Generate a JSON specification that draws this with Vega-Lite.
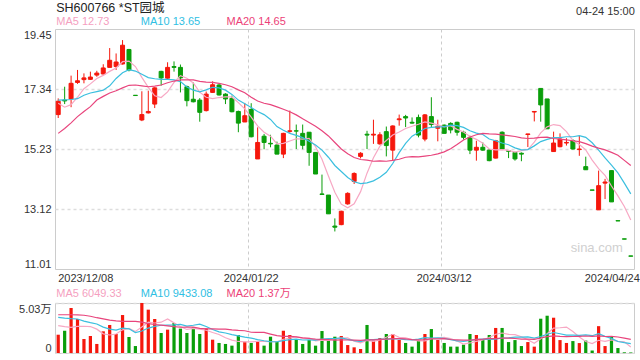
{
"$schema": "https://vega.github.io/schema/vega-lite/v6.json",
"padding": {"left": 18, "top": 1, "right": 2, "bottom": 0},
"background": "white",
"config": {
  "font": "Liberation Sans, Noto Sans CJK SC, sans-serif",
  "view": {"stroke": "#cccccc"},
  "axis": {"labelFont": "Liberation Sans, Noto Sans CJK SC, sans-serif", "labelFontSize": 11, "labelColor": "#333333", "domain": false, "ticks": false},
  "text": {"font": "Liberation Sans, Noto Sans CJK SC, sans-serif"}
},
"datasets": {
"k": [
{"d":"2023/12/08","o":16.44,"h":17.01,"l":16.32,"c":16.91,"v":18400,"m5":16.84,"m10":16.95,"m20":15.78,"vm5":27500,"vm10":35900,"vm20":38500},
{"d":"2023/12/11","o":16.95,"h":17.42,"l":16.81,"c":16.92,"v":22400,"m5":16.70,"m10":16.96,"m20":15.95,"vm5":26500,"vm10":35000,"vm20":38500},
{"d":"2023/12/12","o":16.99,"h":17.81,"l":16.70,"c":17.54,"v":45300,"m5":16.79,"m10":16.97,"m20":16.15,"vm5":25800,"vm10":34500,"vm20":38500},
{"d":"2023/12/13","o":17.57,"h":18.01,"l":17.52,"c":17.63,"v":34200,"m5":17.05,"m10":17.00,"m20":16.37,"vm5":26800,"vm10":34200,"vm20":38300},
{"d":"2023/12/14","o":17.67,"h":17.89,"l":17.54,"c":17.73,"v":14100,"m5":17.35,"m10":17.12,"m20":16.55,"vm5":26900,"vm10":32000,"vm20":38000},
{"d":"2023/12/15","o":17.68,"h":17.95,"l":17.66,"c":17.76,"v":17100,"m5":17.52,"m10":17.20,"m20":16.72,"vm5":26600,"vm10":30500,"vm20":37000},
{"d":"2023/12/18","o":17.83,"h":17.98,"l":17.77,"c":17.90,"v":9100,"m5":17.71,"m10":17.25,"m20":16.95,"vm5":24000,"vm10":29200,"vm20":35500},
{"d":"2023/12/19","o":17.87,"h":18.21,"l":17.84,"c":18.08,"v":21800,"m5":17.82,"m10":17.30,"m20":17.08,"vm5":19300,"vm10":26000,"vm20":34300},
{"d":"2023/12/20","o":18.10,"h":18.78,"l":18.10,"c":18.35,"v":28200,"m5":17.96,"m10":17.45,"m20":17.20,"vm5":18100,"vm10":24100,"vm20":33000},
{"d":"2023/12/21","o":18.13,"h":18.59,"l":18.01,"c":18.29,"v":19100,"m5":18.08,"m10":17.71,"m20":17.28,"vm5":19100,"vm10":23000,"vm20":32300},
{"d":"2023/12/22","o":18.22,"h":19.06,"l":18.20,"c":18.88,"v":38200,"m5":18.30,"m10":17.91,"m20":17.38,"vm5":23300,"vm10":25000,"vm20":31900},
{"d":"2023/12/25","o":18.73,"h":18.75,"l":17.96,"c":18.01,"v":16100,"m5":18.32,"m10":18.02,"m20":17.47,"vm5":24700,"vm10":24300,"vm20":31900},
{"d":"2023/12/26","o":17.12,"h":17.12,"l":17.11,"c":17.11,"v":7000,"m5":18.13,"m10":17.97,"m20":17.48,"vm5":21700,"vm10":20500,"vm20":31900},
{"d":"2023/12/27","o":16.25,"h":17.26,"l":16.21,"c":16.44,"v":50300,"m5":17.75,"m10":17.86,"m20":17.45,"vm5":26100,"vm10":22100,"vm20":31000},
{"d":"2023/12/28","o":16.50,"h":17.28,"l":16.48,"c":16.55,"v":43600,"m5":17.40,"m10":17.74,"m20":17.42,"vm5":31000,"vm10":25100,"vm20":29500},
{"d":"2023/12/29","o":16.81,"h":17.40,"l":16.67,"c":17.38,"v":34200,"m5":17.10,"m10":17.70,"m20":17.44,"vm5":30200,"vm10":26800,"vm20":28700},
{"d":"2024/01/02","o":17.96,"h":17.98,"l":17.46,"c":17.73,"v":20100,"m5":17.04,"m10":17.68,"m20":17.48,"vm5":31000,"vm10":27900,"vm20":28000},
{"d":"2024/01/03","o":17.72,"h":18.28,"l":17.67,"c":18.10,"v":23500,"m5":17.24,"m10":17.68,"m20":17.56,"vm5":34300,"vm10":28000,"vm20":27200},
{"d":"2024/01/04","o":18.13,"h":18.31,"l":17.95,"c":18.10,"v":30200,"m5":17.57,"m10":17.66,"m20":17.62,"vm5":30300,"vm10":28200,"vm20":26500},
{"d":"2024/01/05","o":18.10,"h":18.20,"l":17.22,"c":17.73,"v":24500,"m5":17.81,"m10":17.60,"m20":17.66,"vm5":26500,"vm10":28800,"vm20":25900},
{"d":"2024/01/08","o":17.42,"h":17.46,"l":16.73,"c":16.93,"v":20100,"m5":17.72,"m10":17.41,"m20":17.66,"vm5":23700,"vm10":27000,"vm20":26000},
{"d":"2024/01/09","o":16.98,"h":17.57,"l":16.87,"c":16.89,"v":25800,"m5":17.55,"m10":17.30,"m20":17.66,"vm5":24800,"vm10":27900,"vm20":26100},
{"d":"2024/01/10","o":16.95,"h":17.02,"l":16.19,"c":16.52,"v":19100,"m5":17.23,"m10":17.24,"m20":17.61,"vm5":23900,"vm10":29100,"vm20":24800},
{"d":"2024/01/11","o":16.58,"h":17.25,"l":16.55,"c":17.16,"v":24800,"m5":17.05,"m10":17.31,"m20":17.58,"vm5":22900,"vm10":26600,"vm20":24300},
{"d":"2024/01/12","o":17.22,"h":17.61,"l":17.20,"c":17.49,"v":13400,"m5":17.00,"m10":17.40,"m20":17.57,"vm5":20600,"vm10":23600,"vm20":24300},
{"d":"2024/01/15","o":17.48,"h":17.52,"l":17.11,"c":17.13,"v":10100,"m5":17.04,"m10":17.38,"m20":17.54,"vm5":18600,"vm10":21200,"vm20":24000},
{"d":"2024/01/16","o":17.16,"h":17.19,"l":16.81,"c":16.99,"v":9100,"m5":17.06,"m10":17.30,"m20":17.49,"vm5":15300,"vm10":20100,"vm20":24000},
{"d":"2024/01/17","o":17.01,"h":17.11,"l":16.52,"c":16.54,"v":7400,"m5":17.06,"m10":17.15,"m20":17.42,"vm5":13000,"vm10":18500,"vm20":23200},
{"d":"2024/01/18","o":16.55,"h":16.58,"l":15.82,"c":16.14,"v":18100,"m5":16.86,"m10":16.95,"m20":17.31,"vm5":11600,"vm10":17200,"vm20":22700},
{"d":"2024/01/19","o":16.18,"h":16.85,"l":16.18,"c":16.40,"v":11400,"m5":16.64,"m10":16.82,"m20":17.21,"vm5":11200,"vm10":15900,"vm20":22400},
{"d":"2024/01/22","o":16.62,"h":16.84,"l":15.64,"c":15.66,"v":10100,"m5":16.35,"m10":16.69,"m20":17.05,"vm5":11200,"vm10":14900,"vm20":20900},
{"d":"2024/01/23","o":14.88,"h":15.99,"l":14.88,"c":15.46,"v":11400,"m5":16.04,"m10":16.55,"m20":16.92,"vm5":11700,"vm10":13500,"vm20":20700},
{"d":"2024/01/24","o":15.68,"h":15.76,"l":15.22,"c":15.46,"v":7400,"m5":15.82,"m10":16.44,"m20":16.84,"vm5":11700,"vm10":12300,"vm20":20700},
{"d":"2024/01/25","o":15.43,"h":15.73,"l":15.29,"c":15.41,"v":16400,"m5":15.68,"m10":16.27,"m20":16.79,"vm5":11300,"vm10":11500,"vm20":19000},
{"d":"2024/01/26","o":15.37,"h":15.49,"l":15.05,"c":15.05,"v":11400,"m5":15.41,"m10":16.02,"m20":16.71,"vm5":11300,"vm10":11300,"vm20":17400},
{"d":"2024/01/29","o":15.05,"h":15.80,"l":14.91,"c":15.78,"v":22400,"m5":15.43,"m10":15.89,"m20":16.63,"vm5":13800,"vm10":12500,"vm20":16800},
{"d":"2024/01/30","o":15.85,"h":16.58,"l":15.80,"c":15.87,"v":18100,"m5":15.51,"m10":15.78,"m20":16.54,"vm5":15100,"vm10":13400,"vm20":16700},
{"d":"2024/01/31","o":15.87,"h":16.09,"l":15.23,"c":15.86,"v":13400,"m5":15.59,"m10":15.71,"m20":16.43,"vm5":16300,"vm10":14000,"vm20":16200},
{"d":"2024/02/01","o":15.78,"h":16.09,"l":15.22,"c":15.36,"v":9100,"m5":15.58,"m10":15.63,"m20":16.29,"vm5":14900,"vm10":13100,"vm20":15200},
{"d":"2024/02/02","o":15.82,"h":15.82,"l":14.64,"c":15.11,"v":13100,"m5":15.60,"m10":15.50,"m20":16.16,"vm5":15200,"vm10":13300,"vm20":14600},
{"d":"2024/02/05","o":15.11,"h":15.11,"l":14.35,"c":14.35,"v":7400,"m5":15.31,"m10":15.37,"m20":16.03,"vm5":12200,"vm10":13000,"vm20":14000},
{"d":"2024/02/06","o":13.65,"h":14.33,"l":13.63,"c":13.63,"v":22100,"m5":14.87,"m10":15.19,"m20":15.87,"vm5":13000,"vm10":14100,"vm20":13800},
{"d":"2024/02/07","o":13.61,"h":13.61,"l":12.95,"c":12.95,"v":12400,"m5":14.28,"m10":14.94,"m20":15.69,"vm5":12800,"vm10":14600,"vm20":13500},
{"d":"2024/02/08","o":12.52,"h":12.79,"l":12.33,"c":12.48,"v":16400,"m5":13.71,"m10":14.65,"m20":15.46,"vm5":14300,"vm10":14600,"vm20":13000},
{"d":"2024/02/19","o":12.57,"h":13.06,"l":12.55,"c":13.04,"v":17100,"m5":13.29,"m10":14.44,"m20":15.23,"vm5":15100,"vm10":15200,"vm20":13200},
{"d":"2024/02/20","o":13.30,"h":13.71,"l":13.27,"c":13.67,"v":8000,"m5":13.16,"m10":14.23,"m20":15.06,"vm5":15200,"vm10":13700,"vm20":13100},
{"d":"2024/02/21","o":14.09,"h":14.41,"l":14.00,"c":14.37,"v":5700,"m5":13.30,"m10":14.08,"m20":14.93,"vm5":11900,"vm10":12500,"vm20":12900},
{"d":"2024/02/22","o":14.97,"h":15.12,"l":14.90,"c":15.08,"v":4000,"m5":13.73,"m10":14.01,"m20":14.86,"vm5":10200,"vm10":11500,"vm20":12800},
{"d":"2024/02/23","o":15.75,"h":15.87,"l":15.23,"c":15.72,"v":28200,"m5":14.38,"m10":14.04,"m20":14.84,"vm5":12600,"vm10":13400,"vm20":13300},
{"d":"2024/02/26","o":15.72,"h":16.26,"l":15.41,"c":15.75,"v":12400,"m5":14.92,"m10":14.11,"m20":14.80,"vm5":11700,"vm10":13400,"vm20":13300},
{"d":"2024/02/27","o":15.41,"h":15.82,"l":15.38,"c":15.73,"v":15100,"m5":15.33,"m10":14.24,"m20":14.81,"vm5":13100,"vm10":14100,"vm20":13600},
{"d":"2024/02/28","o":15.84,"h":16.02,"l":14.97,"c":15.35,"v":19100,"m5":15.53,"m10":14.41,"m20":14.80,"vm5":15800,"vm10":13800,"vm20":14000},
{"d":"2024/02/29","o":15.19,"h":16.06,"l":14.84,"c":16.04,"v":19100,"m5":15.72,"m10":14.72,"m20":14.83,"vm5":18800,"vm10":14500,"vm20":14500},
{"d":"2024/03/01","o":16.26,"h":16.44,"l":16.05,"c":16.29,"v":13100,"m5":15.83,"m10":15.10,"m20":14.87,"vm5":15800,"vm10":14200,"vm20":14400},
{"d":"2024/03/04","o":16.37,"h":16.43,"l":16.00,"c":16.32,"v":10100,"m5":15.95,"m10":15.43,"m20":14.94,"vm5":15300,"vm10":13500,"vm20":14300},
{"d":"2024/03/05","o":16.17,"h":16.34,"l":16.12,"c":16.14,"v":6400,"m5":16.03,"m10":15.68,"m20":14.96,"vm5":13600,"vm10":13300,"vm20":13500},
{"d":"2024/03/06","o":16.34,"h":16.44,"l":15.64,"c":15.72,"v":12400,"m5":16.10,"m10":15.81,"m20":14.95,"vm5":12200,"vm10":14000,"vm20":13200},
{"d":"2024/03/07","o":15.58,"h":16.46,"l":15.50,"c":16.43,"v":19100,"m5":16.18,"m10":15.95,"m20":14.98,"vm5":12200,"vm10":15500,"vm20":13500},
{"d":"2024/03/08","o":16.37,"h":17.05,"l":15.97,"c":16.09,"v":24100,"m5":16.14,"m10":15.99,"m20":15.01,"vm5":14400,"vm10":15100,"vm20":14300},
{"d":"2024/03/11","o":15.96,"h":16.26,"l":15.50,"c":16.03,"v":13100,"m5":16.08,"m10":16.01,"m20":15.06,"vm5":15000,"vm10":15200,"vm20":14300},
{"d":"2024/03/12","o":16.07,"h":16.09,"l":15.78,"c":15.78,"v":10100,"m5":16.01,"m10":16.02,"m20":15.13,"vm5":15800,"vm10":14700,"vm20":14400},
{"d":"2024/03/13","o":16.13,"h":16.17,"l":15.78,"c":15.90,"v":6400,"m5":16.05,"m10":16.07,"m20":15.24,"vm5":14600,"vm10":13400,"vm20":13600},
{"d":"2024/03/14","o":16.17,"h":16.19,"l":15.70,"c":15.82,"v":6400,"m5":15.92,"m10":16.05,"m20":15.39,"vm5":12000,"vm10":12100,"vm20":13300},
{"d":"2024/03/15","o":15.82,"h":15.87,"l":15.56,"c":15.64,"v":8400,"m5":15.83,"m10":15.99,"m20":15.55,"vm5":8900,"vm10":11700,"vm20":12900},
{"d":"2024/03/18","o":15.64,"h":15.70,"l":15.05,"c":15.19,"v":19100,"m5":15.67,"m10":15.87,"m20":15.65,"vm5":10100,"vm10":12600,"vm20":13000},
{"d":"2024/03/19","o":15.19,"h":15.52,"l":14.82,"c":15.29,"v":18100,"m5":15.57,"m10":15.79,"m20":15.73,"vm5":11700,"vm10":13700,"vm20":13500},
{"d":"2024/03/20","o":15.29,"h":15.46,"l":15.17,"c":15.19,"v":14100,"m5":15.43,"m10":15.74,"m20":15.78,"vm5":13200,"vm10":13900,"vm20":13900},
{"d":"2024/03/21","o":15.19,"h":15.23,"l":14.80,"c":14.82,"v":18100,"m5":15.23,"m10":15.58,"m20":15.76,"vm5":15600,"vm10":13800,"vm20":14600},
{"d":"2024/03/22","o":14.91,"h":15.55,"l":14.90,"c":15.52,"v":25200,"m5":15.20,"m10":15.52,"m20":15.75,"vm5":18900,"vm10":13900,"vm20":14500},
{"d":"2024/03/25","o":15.82,"h":15.85,"l":15.19,"c":15.23,"v":25200,"m5":15.21,"m10":15.44,"m20":15.73,"vm5":20100,"vm10":15100,"vm20":15100},
{"d":"2024/03/26","o":15.17,"h":15.19,"l":14.91,"c":15.15,"v":11000,"m5":15.18,"m10":15.38,"m20":15.70,"vm5":18700,"vm10":15200,"vm20":14900},
{"d":"2024/03/27","o":15.11,"h":15.13,"l":14.82,"c":14.88,"v":13000,"m5":15.12,"m10":15.27,"m20":15.67,"vm5":18500,"vm10":15900,"vm20":14600},
{"d":"2024/03/28","o":15.08,"h":15.11,"l":14.80,"c":15.05,"v":7000,"m5":15.17,"m10":15.20,"m20":15.62,"vm5":16300,"vm10":15900,"vm20":14000},
{"d":"2024/03/29","o":15.74,"h":15.76,"l":15.30,"c":15.76,"v":11000,"m5":15.21,"m10":15.21,"m20":15.60,"vm5":13400,"vm10":16200,"vm20":13900},
{"d":"2024/04/01","o":16.53,"h":16.55,"l":16.20,"c":16.55,"v":6400,"m5":15.47,"m10":15.34,"m20":15.61,"vm5":9700,"vm10":14900,"vm20":13700},
{"d":"2024/04/02","o":17.36,"h":17.36,"l":16.19,"c":16.78,"v":34500,"m5":15.80,"m10":15.49,"m20":15.64,"vm5":14400,"vm10":16600,"vm20":15100},
{"d":"2024/04/03","o":16.99,"h":16.99,"l":15.94,"c":15.94,"v":37500,"m5":16.01,"m10":15.57,"m20":15.65,"vm5":19300,"vm10":18900,"vm20":16400},
{"d":"2024/04/08","o":15.14,"h":15.84,"l":15.14,"c":15.44,"v":35500,"m5":16.09,"m10":15.63,"m20":15.60,"vm5":25000,"vm10":20600,"vm20":17200},
{"d":"2024/04/09","o":15.31,"h":15.78,"l":15.29,"c":15.58,"v":13000,"m5":16.05,"m10":15.63,"m20":15.58,"vm5":25400,"vm10":19400,"vm20":16700},
{"d":"2024/04/10","o":15.44,"h":15.61,"l":15.35,"c":15.46,"v":10100,"m5":15.84,"m10":15.66,"m20":15.55,"vm5":26100,"vm10":17900,"vm20":16500},
{"d":"2024/04/11","o":15.52,"h":15.58,"l":15.21,"c":15.23,"v":12000,"m5":15.53,"m10":15.66,"m20":15.52,"vm5":21600,"vm10":18000,"vm20":16600},
{"d":"2024/04/12","o":15.21,"h":15.70,"l":14.99,"c":15.23,"v":10000,"m5":15.39,"m10":15.70,"m20":15.49,"vm5":16100,"vm10":17700,"vm20":16800},
{"d":"2024/04/15","o":14.61,"h":14.96,"l":14.50,"c":14.50,"v":12500,"m5":15.20,"m10":15.64,"m20":15.42,"vm5":11500,"vm10":18300,"vm20":17100},
{"d":"2024/04/16","o":13.79,"h":13.79,"l":13.78,"c":13.78,"v":2500,"m5":14.84,"m10":15.45,"m20":15.33,"vm5":9400,"vm10":17400,"vm20":16800},
{"d":"2024/04/17","o":13.09,"h":14.47,"l":13.09,"c":13.94,"v":27000,"m5":14.54,"m10":15.19,"m20":15.26,"vm5":12800,"vm10":19500,"vm20":17200},
{"d":"2024/04/18","o":14.03,"h":14.18,"l":13.47,"c":14.07,"v":7000,"m5":14.30,"m10":14.92,"m20":15.20,"vm5":11800,"vm10":16700,"vm20":16600},
{"d":"2024/04/19","o":14.47,"h":14.47,"l":13.37,"c":13.37,"v":17000,"m5":13.93,"m10":14.66,"m20":15.11,"vm5":13200,"vm10":14700,"vm20":16800},
{"d":"2024/04/22","o":12.71,"h":12.71,"l":12.70,"c":12.70,"v":5000,"m5":13.58,"m10":14.39,"m20":15.01,"vm5":11700,"vm10":11600,"vm20":16100},
{"d":"2024/04/23","o":12.07,"h":12.07,"l":12.06,"c":12.06,"v":700,"m5":13.21,"m10":14.03,"m20":14.83,"vm5":11300,"vm10":10400,"vm20":14900},
{"d":"2024/04/24","o":11.47,"h":11.47,"l":11.46,"c":11.46,"v":550,"m5":12.73,"m10":13.65,"m20":14.65,"vm5":6050,"vm10":9430,"vm20":13700}
]
},
"spacing": 34,
"bounds": "flush",
"vconcat": [
{
  "width": 579,
  "height": 240,
  "data": {"name": "k"},
  "encoding": {
    "x": {"field": "d", "type": "ordinal", "sort": null, "scale": {"paddingInner": 0, "paddingOuter": 0},
      "axis": {"title": null, "values": ["2023/12/08", "2024/01/22", "2024/03/12", "2024/04/24"], "bandPosition": 0, "labelAngle": 0, "labelPadding": 3,
        "labelAlign": {"condition": [{"test": "datum.value == '2023/12/08'", "value": "left"}, {"test": "datum.value == '2024/04/24'", "value": "right"}], "value": "center"},
        "labelOffset": {"condition": {"test": "datum.value == '2024/04/24'", "value": 9}, "value": 0},
        "grid": true, "gridDash": [3, 3],
        "gridColor": {"condition": {"test": "datum.value == '2024/01/22' || datum.value == '2024/03/12'", "value": "#cccccc"}, "value": "transparent"}}}
  },
  "layer": [
    {"mark": {"type": "rule", "strokeWidth": 1},
     "encoding": {
       "y": {"field": "l", "type": "quantitative", "scale": {"domain": [11.01, 19.45], "zero": false, "nice": false},
         "axis": {"title": null, "values": [11.01, 13.12, 15.23, 17.34, 19.45], "format": ".2f", "labelFlush": true, "labelPadding": 4,
           "grid": true, "gridDash": [3, 3], "gridWidth": 1.5,
           "gridColor": {"condition": {"test": "datum.value == 11.01 || datum.value == 19.45", "value": "transparent"}, "value": "#dddddd"}}},
       "y2": {"field": "h"},
       "color": {"condition": {"test": "datum.c >= datum.o", "value": "#f5170c"}, "value": "#0a9e0a"}
     }},
    {"mark": {"type": "bar", "width": {"band": 0.62}, "strokeWidth": 1},
     "encoding": {
       "y": {"field": "o", "type": "quantitative"},
       "y2": {"field": "c"},
       "fill": {"condition": {"test": "datum.c >= datum.o", "value": "#f5170c"}, "value": "#0a9e0a"},
       "stroke": {"condition": {"test": "datum.c >= datum.o", "value": "#f5170c"}, "value": "#0a9e0a"}
     }},
    {"mark": {"type": "line", "color": "#f7a8c4", "strokeWidth": 1.2}, "encoding": {"y": {"field": "m5", "type": "quantitative"}}},
    {"mark": {"type": "line", "color": "#3bbfdf", "strokeWidth": 1.2}, "encoding": {"y": {"field": "m10", "type": "quantitative"}}},
    {"mark": {"type": "line", "color": "#e8457d", "strokeWidth": 1.2}, "encoding": {"y": {"field": "m20", "type": "quantitative"}}},
    {"data": {"values": [{"t": "SH600766 *ST园城"}]},
     "mark": {"type": "text", "align": "left", "baseline": "middle", "fontSize": 12.5, "color": "#222222", "dx": -2},
     "encoding": {"x": {"datum": "2023/12/08"}, "y": {"datum": 20.2}, "text": {"field": "t"}}},
    {"data": {"values": [{"t": "04-24 15:00"}]},
     "mark": {"type": "text", "align": "right", "baseline": "middle", "fontSize": 11, "color": "#333333", "dx": 4},
     "encoding": {"x": {"datum": "2024/04/24"}, "y": {"datum": 20.05}, "text": {"field": "t"}}},
    {"data": {"values": [{"t": "MA5 12.73"}]},
     "mark": {"type": "text", "align": "left", "baseline": "middle", "fontSize": 11, "color": "#f59fbf", "dx": -2},
     "encoding": {"x": {"datum": "2023/12/08"}, "y": {"datum": 19.69}, "text": {"field": "t"}}},
    {"data": {"values": [{"t": "MA10 13.65"}]},
     "mark": {"type": "text", "align": "left", "baseline": "middle", "fontSize": 11, "color": "#2fc0e3", "dx": -1},
     "encoding": {"x": {"datum": "2023/12/27"}, "y": {"datum": 19.69}, "text": {"field": "t"}}},
    {"data": {"values": [{"t": "MA20 14.65"}]},
     "mark": {"type": "text", "align": "left", "baseline": "middle", "fontSize": 11, "color": "#ec3f77", "dx": 1},
     "encoding": {"x": {"datum": "2024/01/16"}, "y": {"datum": 19.69}, "text": {"field": "t"}}},
    {"data": {"values": [{"t": "sina.com"}]},
     "mark": {"type": "text", "align": "right", "baseline": "middle", "fontSize": 13, "color": "#d0d0d0", "dx": -8},
     "encoding": {"x": {"datum": "2024/04/24"}, "y": {"datum": 11.75}, "text": {"field": "t"}}}
  ]
},
{
  "width": 579,
  "height": 50,
  "data": {"name": "k"},
  "encoding": {
    "x": {"field": "d", "type": "ordinal", "sort": null, "scale": {"paddingInner": 0, "paddingOuter": 0},
      "axis": {"title": null, "values": ["2024/01/22", "2024/03/12"], "bandPosition": 0, "labels": false, "grid": true, "gridDash": [3, 3], "gridColor": "#cccccc"}}
  },
  "layer": [
    {"mark": {"type": "bar", "width": {"band": 0.5}},
     "encoding": {
       "y": {"field": "v", "type": "quantitative", "scale": {"domain": [0, 50300], "nice": false},
         "axis": {"title": null, "values": [0, 50300], "labelExpr": "datum.value == 0 ? '0' : '5.03万'", "labelFlush": true, "labelPadding": 4,
           "grid": true, "gridDash": [3, 3], "gridWidth": 1.5, "gridColor": "#dddddd"}},
       "color": {"condition": {"test": "datum.c >= datum.o", "value": "#f5170c"}, "value": "#0a9e0a"}
     }},
    {"mark": {"type": "line", "color": "#f7a8c4", "strokeWidth": 1.2}, "encoding": {"y": {"field": "vm5", "type": "quantitative"}}},
    {"mark": {"type": "line", "color": "#3bbfdf", "strokeWidth": 1.2}, "encoding": {"y": {"field": "vm10", "type": "quantitative"}}},
    {"mark": {"type": "line", "color": "#e8457d", "strokeWidth": 1.2}, "encoding": {"y": {"field": "vm20", "type": "quantitative"}}},
    {"data": {"values": [{"t": "MA5 6049.33"}]},
     "mark": {"type": "text", "align": "left", "baseline": "middle", "fontSize": 11, "color": "#f59fbf", "dx": -2},
     "encoding": {"x": {"datum": "2023/12/08"}, "y": {"datum": 59400}, "text": {"field": "t"}}},
    {"data": {"values": [{"t": "MA10 9433.08"}]},
     "mark": {"type": "text", "align": "left", "baseline": "middle", "fontSize": 11, "color": "#2fc0e3", "dx": -1},
     "encoding": {"x": {"datum": "2023/12/27"}, "y": {"datum": 59400}, "text": {"field": "t"}}},
    {"data": {"values": [{"t": "MA20 1.37万"}]},
     "mark": {"type": "text", "align": "left", "baseline": "middle", "fontSize": 11, "color": "#ec3f77", "dx": 1},
     "encoding": {"x": {"datum": "2024/01/16"}, "y": {"datum": 59400}, "text": {"field": "t"}}}
  ]
}
]
}
